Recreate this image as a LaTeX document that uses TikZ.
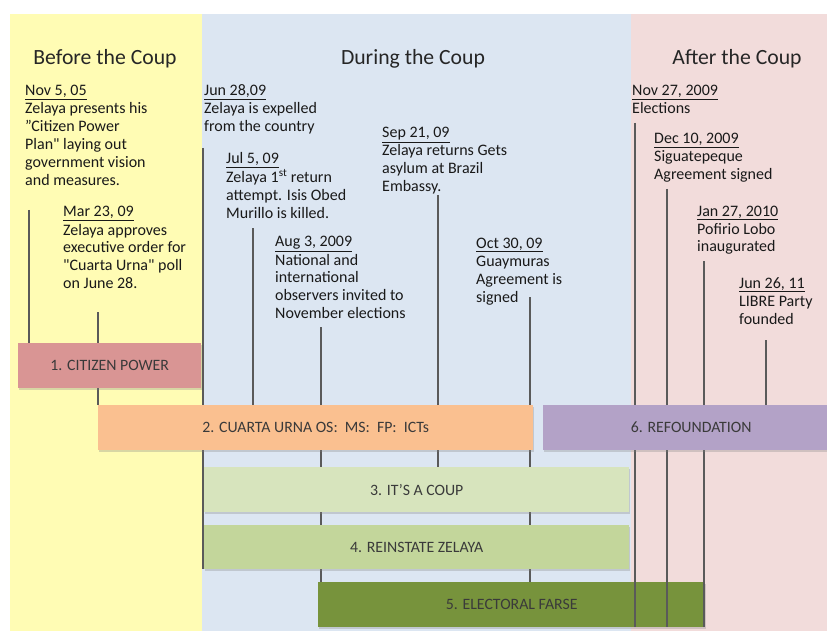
\documentclass[tikz,border=0pt]{standalone}
\usepackage{fontspec}
\setmainfont{Carlito}[Ligatures=TeXOff]
\usetikzlibrary{shadows}
\definecolor{bgY}{HTML}{FFFCB4}
\definecolor{bgB}{HTML}{DCE6F2}
\definecolor{bgP}{HTML}{F2DCDB}
\definecolor{cA}{HTML}{D99594}
\definecolor{cB}{HTML}{FAC090}
\definecolor{cC}{HTML}{D7E4BD}
\definecolor{cD}{HTML}{C3D69B}
\definecolor{cE}{HTML}{77933C}
\definecolor{cF}{HTML}{B3A2C7}
\definecolor{lab}{HTML}{3A3A3A}
\definecolor{tl}{HTML}{5A5A5A}
\newcommand{\evt}[2]{\begin{tabular}[t]{@{}l@{}}\underline{#1}\\#2\end{tabular}}
\pgfdeclarelayer{bg}
\pgfdeclarelayer{mid}
\pgfsetlayers{bg,mid,main}
\begin{document}
\begin{tikzpicture}[x=1pt,y=-1pt,
  bar/.style={rectangle, inner sep=0pt, anchor=north west, minimum height=45pt,
    text=lab, font=\fontsize{15.8}{18}\selectfont,
    drop shadow={shadow xshift=1pt, shadow yshift=-1.5pt, opacity=0.3}},
  ev/.style={anchor=base west, inner sep=0pt, text=black!90, font=\fontsize{16}{18}\selectfont},
  head/.style={anchor=base, inner sep=0pt, text=black!85, font=\fontsize{21.7}{26}\selectfont},
  tick/.style={draw=tl, line width=1.2pt}]
\path[use as bounding box, clip] (0,0) rectangle (827,631);
\begin{pgfonlayer}{bg}
  \fill[white] (0,0) rectangle (827,631);
  \fill[bgY] (10,14) rectangle (202,631);
  \fill[bgB] (202,14) rectangle (631,631);
  \fill[bgP] (631,14) rectangle (827,631);
  \node[bar, fill=cE, minimum width=387pt] (b5) at (318,582) {5. ELECTORAL FARSE};
\end{pgfonlayer}
% headings
\node[head] (h1) at (105,64.5) {Before the Coup};
\node[head] (h2) at (413,64.5) {During the Coup};
\node[head] (h3) at (737,64.5) {After the Coup};
% bars
\node[bar, fill=cA, minimum width=183pt] (b1) at (18,343) {1. CITIZEN POWER};
\node[bar, fill=cB, minimum width=435pt] (b2) at (98,405) {2. CUARTA URNA OS:\ \ MS:\ \ FP:\ \ ICTs};
\node[bar, fill=cC, minimum width=425pt] (b3) at (204,467) {3. IT’S A COUP};
\node[bar, fill=cD, minimum width=425pt, minimum height=44pt] (b4) at (204,525) {4. REINSTATE ZELAYA};
\node[bar, fill=cF, minimum width=296pt] (b6) at (543,405) {6. REFOUNDATION};
% events
\node[ev] (e1) at (25,96) {\evt{Nov 5, 05}{Zelaya presents his\\”Citizen Power\\Plan" laying out\\government vision\\and measures.}};
\node[ev] (e2) at (63,217) {\evt{Mar 23, 09}{Zelaya approves\\executive order for\\"Cuarta Urna" poll\\on June 28.}};
\node[ev] (e3) at (204,96) {\evt{Jun 28,09}{Zelaya is expelled\\from the country}};
\node[ev] (e4) at (226,164) {\evt{Jul 5, 09}{Zelaya 1\textsuperscript{st} return\\attempt. Isis Obed\\Murillo is killed.}};
\node[ev] (e5) at (275,247) {\evt{Aug 3, 2009}{National and\\international\\observers invited to\\November elections}};
\node[ev] (e6) at (382,138) {\evt{Sep 21, 09}{Zelaya returns Gets\\asylum at Brazil\\Embassy.}};
\node[ev] (e7) at (476,248) {\evt{Oct 30, 09}{Guaymuras\\Agreement is\\signed}};
\node[ev] (e8) at (632,96) {\evt{Nov 27, 2009}{Elections}};
\node[ev] (e9) at (654,144) {\evt{Dec 10, 2009}{Siguatepeque\\Agreement signed}};
\node[ev] (e10) at (697,216) {\evt{Jan 27, 2010}{Pofirio Lobo\\inaugurated}};
\node[ev] (e11) at (739,288) {\evt{Jun 26, 11}{LIBRE Party\\founded}};
% ticks
\begin{pgfonlayer}{mid}
  \coordinate (t1) at (29,210);
  \coordinate (t2) at (98,312);
  \coordinate (t3) at (203,148);
  \coordinate (t4) at (253,228);
  \coordinate (t5) at (321,327);
  \coordinate (t6) at (438,195);
  \coordinate (t7) at (530,297);
  \coordinate (t8) at (635,123);
  \coordinate (t9) at (667,189);
  \coordinate (t10) at (704,261);
  \coordinate (t11) at (766,340);
  \draw[tick] (t1) -- (t1 |- b1.north);
  \draw[tick] (t2) -- (t2 |- b2.north);
  \draw[tick] (t3) -- (t3 |- b4.south);
  \draw[tick] (t4) -- (t4 |- b2.north);
  \draw[tick] (t5) -- (t5 |- b5.north);
  \draw[tick] (t6) -- (t6 |- b3.north);
  \draw[tick] (t7) -- (t7 |- b5.north);
  \draw[tick] (t8) -- (t8 |- b5.south);
  \draw[tick] (t9) -- (t9 |- b5.south);
  \draw[tick] (t10) -- (t10 |- b5.south);
  \draw[tick] (t11) -- (t11 |- b6.north);
\end{pgfonlayer}
\end{tikzpicture}
\end{document}
